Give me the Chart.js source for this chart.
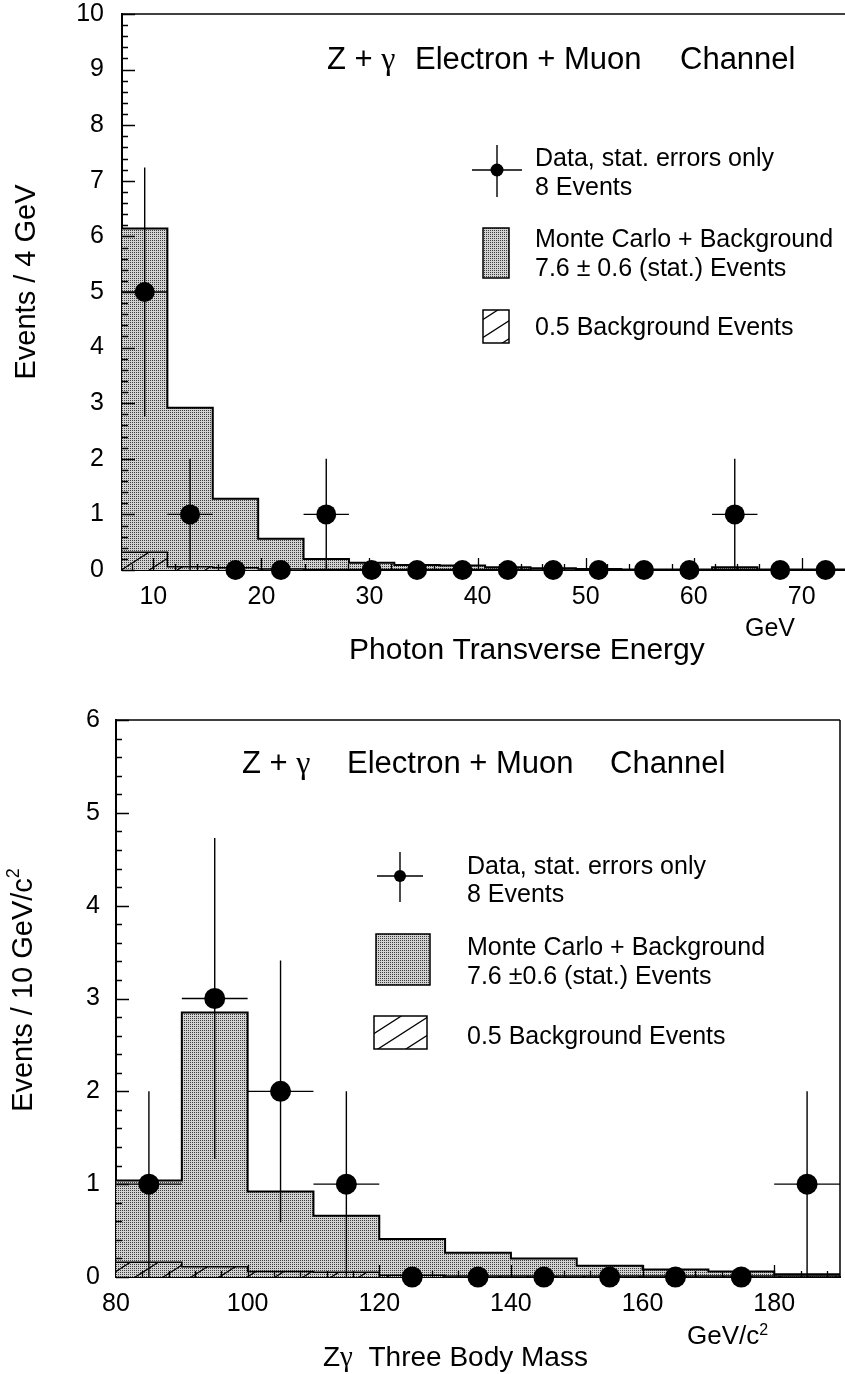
<!DOCTYPE html>
<html>
<head>
<meta charset="utf-8">
<title>Z + gamma: photon transverse energy and three body mass</title>
<script src="https://cdn.jsdelivr.net/npm/chart.js@4.4.1/dist/chart.umd.min.js"></script>
<style>
  html, body { margin: 0; padding: 0; background: #fff; }
  #page { position: relative; width: 845px; height: 1374px; }
  .panel { position: absolute; left: 0; width: 845px; }
  canvas { display: block; }
</style>
</head>
<body>
<div id="page">
  <div class="panel" style="top:0;height:680px"><canvas id="etChart" width="845" height="680"></canvas></div>
  <div class="panel" style="top:680px;height:694px"><canvas id="massChart" width="845" height="694"></canvas></div>
</div>
<script>
// ---- Photon transverse energy (upper panel) ----
const etEdges      = [7.1, 11.3, 15.5, 19.7, 23.9, 28.1, 32.3, 36.5, 40.7, 44.9, 49.1, 53.3, 57.5, 61.7, 65.9, 70.1, 74.3];
const etSimulated  = [6.14, 2.92, 1.28, 0.56, 0.20, 0.13, 0.09, 0.08, 0.05, 0.03, 0.02, 0.01, 0.01, 0.05, 0.01, 0.01];
const etBackground = [0.32, 0.06, 0.04, 0.02, 0.01, 0.01, 0.01, 0.01, 0.01, 0.0, 0.0, 0.0, 0.0, 0.01, 0.0, 0.0];
const etCounts     = [5, 1, 0, 0, 1, 0, 0, 0, 0, 0, 0, 0, 0, 1, 0, 0];
const etErrors     = [2.24, 1, 0, 0, 1, 0, 0, 0, 0, 0, 0, 0, 0, 1, 0, 0];
const etTickLabels = [10, 20, 30, 40, 50, 60, 70];

// ---- Z gamma three body mass (lower panel) ----
const massEdges      = [80, 90, 100, 110, 120, 130, 140, 150, 160, 170, 180, 190];
const massSimulated  = [1.04, 2.85, 0.92, 0.66, 0.41, 0.26, 0.20, 0.12, 0.08, 0.06, 0.03];
const massBackground = [0.16, 0.11, 0.06, 0.05, 0.02, 0.01, 0.01, 0.01, 0.01, 0.01, 0.01];
const massCounts     = [1, 3, 2, 1, 0, 0, 0, 0, 0, 0, 1];
const massErrors     = [1, 1.73, 1.41, 1, 0, 0, 0, 0, 0, 0, 1];
const massTickLabels = [80, 100, 120, 140, 160, 180];

const SANS  = '"Liberation Sans", Arial, Helvetica, sans-serif';
const SERIF = '"Liberation Serif", "Times New Roman", serif';

// step-histogram vertices: one point per bin edge, last bin value repeated
function histogramPoints(edges, values) {
  return edges.map((e, i) => ({ x: e, y: values[Math.min(i, values.length - 1)] }));
}
function binCentres(edges) {
  return edges.slice(0, -1).map((e, i) => (e + edges[i + 1]) / 2);
}
function dataPoints(edges, counts) {
  const c = binCentres(edges);
  return counts.map((n, i) => ({ x: c[i], y: n }));
}

// fine grey stipple used for the simulated distribution
function makeStipple(ctx) {
  const c = document.createElement('canvas');
  c.width = 2; c.height = 2;
  const g = c.getContext('2d');
  g.fillStyle = '#d2d2d2'; g.fillRect(0, 0, 2, 2);
  g.fillStyle = '#3c3c3c'; g.fillRect(0, 0, 1, 1);
  return ctx.createPattern(c, 'repeat');
}
// sparse diagonal hatching used for the background estimate
function makeHatch(ctx) {
  const w = 28, h = 18;
  const c = document.createElement('canvas');
  c.width = w; c.height = h;
  const g = c.getContext('2d');
  g.strokeStyle = '#000'; g.lineWidth = 1.3;
  g.beginPath();
  for (const off of [-w, 0, w]) {
    g.moveTo(off - 1, h + 0.64);
    g.lineTo(off + w + 1, -0.64);
  }
  g.stroke();
  return ctx.createPattern(c, 'repeat');
}

// draws a sequence of text runs left to right; y is the cap-height centre
function drawRuns(ctx, x, y, runs) {
  let cx = x;
  for (const r of runs) {
    ctx.font = `${r.size}px ${r.family || SANS}`;
    ctx.fillText(r.t, cx, y + (r.dy || 0) + 0.358 * r.size);
    cx += ctx.measureText(r.t).width;
  }
  return cx - x;
}
function runsWidth(ctx, runs) {
  let w = 0;
  for (const r of runs) { ctx.font = `${r.size}px ${r.family || SANS}`; w += ctx.measureText(r.t).width; }
  return w;
}

// closes the frame along the top (and optionally the right) of the plot area
const framePlugin = {
  id: 'frame',
  afterDatasetsDraw(chart, args, opts) {
    const { ctx, chartArea: a } = chart;
    ctx.save();
    ctx.strokeStyle = '#000';
    ctx.lineWidth = 1.5;
    ctx.beginPath();
    ctx.moveTo(a.left, a.top); ctx.lineTo(a.right, a.top);
    if (opts.right) { ctx.moveTo(a.right, a.top); ctx.lineTo(a.right, a.bottom); }
    ctx.stroke();
    ctx.restore();
  }
};

// tick marks pointing into the plot, with minor subdivisions
const innerTicksPlugin = {
  id: 'innerTicks',
  afterDatasetsDraw(chart, args, opts) {
    const { ctx, chartArea: a, scales: { x, y } } = chart;
    ctx.save();
    ctx.strokeStyle = '#000';
    ctx.lineWidth = 1.3;
    ctx.beginPath();
    const ny = Math.round((y.max - y.min) / opts.yStep);
    for (let i = 0; i <= ny; i++) {
      const py = Math.round(y.getPixelForValue(y.min + i * opts.yStep)) + 0.5;
      const len = (i % opts.yPerMajor === 0) ? opts.majorLen : opts.minorLen;
      ctx.moveTo(a.left, py); ctx.lineTo(a.left + len, py);
    }
    const i0 = Math.ceil(x.min / opts.xStep), i1 = Math.floor(x.max / opts.xStep);
    for (let i = i0; i <= i1; i++) {
      const px = Math.round(x.getPixelForValue(i * opts.xStep)) + 0.5;
      if (px <= a.left + 1 || px >= a.right - 1) continue;
      const len = (i % opts.xPerMajor === 0) ? opts.majorLen - 1 : opts.minorLen;
      ctx.moveTo(px, a.bottom); ctx.lineTo(px, a.bottom - len);
    }
    ctx.stroke();
    ctx.restore();
  }
};

// statistical error bars on the data points, horizontal bar spans the bin
const errorBarPlugin = {
  id: 'errorBars',
  afterDatasetsDraw(chart, args, opts) {
    const { ctx, chartArea: a, scales: { x, y } } = chart;
    const edges = opts.edges, counts = opts.counts, errs = opts.errors;
    ctx.save();
    ctx.beginPath();
    ctx.rect(a.left, a.top, a.right - a.left, a.bottom - a.top + 2);
    ctx.clip();
    ctx.strokeStyle = '#000';
    ctx.lineWidth = 1.4;
    ctx.beginPath();
    counts.forEach((n, i) => {
      const xc = x.getPixelForValue((edges[i] + edges[i + 1]) / 2);
      const yc = y.getPixelForValue(n);
      if (errs[i] > 0) {
        ctx.moveTo(xc, y.getPixelForValue(Math.max(0, n - errs[i])));
        ctx.lineTo(xc, y.getPixelForValue(n + errs[i]));
      }
      if (n > 0) {
        ctx.moveTo(x.getPixelForValue(edges[i]), yc);
        ctx.lineTo(x.getPixelForValue(edges[i + 1]), yc);
      }
    });
    ctx.stroke();
    ctx.restore();
  }
};

// in-plot caption, legend and axis captions
const captionPlugin = {
  id: 'captions',
  afterDraw(chart, args, o) {
    const ctx = chart.ctx;
    ctx.save();
    ctx.fillStyle = '#000';
    ctx.textAlign = 'left';
    ctx.textBaseline = 'alphabetic';

    // heading
    const t = o.heading;
    drawRuns(ctx, t.x[0], t.y, [{ t: 'Z + ', size: t.size }, { t: 'γ', size: t.size + 1, family: SERIF }]);
    drawRuns(ctx, t.x[1], t.y, [{ t: 'Electron + Muon', size: t.size }]);
    drawRuns(ctx, t.x[2], t.y, [{ t: 'Channel', size: t.size }]);

    // legend: data symbol
    const L = o.legend;
    ctx.strokeStyle = '#000';
    ctx.lineWidth = 1.4;
    ctx.beginPath();
    ctx.moveTo(L.cross.x0, L.cross.yc); ctx.lineTo(L.cross.x1, L.cross.yc);
    ctx.moveTo(L.cross.xc, L.cross.y0); ctx.lineTo(L.cross.xc, L.cross.y1);
    ctx.stroke();
    ctx.beginPath();
    ctx.arc(L.cross.xc, L.cross.yc, L.cross.r, 0, Math.PI * 2);
    ctx.fill();

    // legend: simulated box
    const s = L.simBox;
    ctx.fillStyle = o.stipple;
    ctx.fillRect(s.x, s.y, s.w, s.h);
    ctx.lineWidth = 1.5;
    ctx.strokeRect(s.x, s.y, s.w, s.h);

    // legend: background box
    const b = L.bkgBox;
    ctx.fillStyle = '#fff';
    ctx.fillRect(b.x, b.y, b.w, b.h);
    ctx.fillStyle = o.hatch;
    ctx.fillRect(b.x, b.y, b.w, b.h);
    ctx.strokeRect(b.x, b.y, b.w, b.h);

    ctx.fillStyle = '#000';
    L.lines.forEach(l => drawRuns(ctx, L.textX, l.y, [{ t: l.t, size: L.size }]));

    // x axis caption and unit
    o.xTitle.forEach(item => drawRuns(ctx, item.x, item.y, item.runs));

    // y axis caption, rotated
    const yt = o.yTitle;
    const w = runsWidth(ctx, yt.runs);
    ctx.translate(yt.x, yt.y);
    ctx.rotate(-Math.PI / 2);
    drawRuns(ctx, -w / 2, 0, yt.runs);
    ctx.restore();
  }
};

function buildChart(canvasId, cfg) {
  const canvas = document.getElementById(canvasId);
  const ctx = canvas.getContext('2d');
  const stipple = makeStipple(ctx);
  const hatch = makeHatch(ctx);
  const tickFont = { family: SANS, size: 25 };

  return new Chart(canvas, {
    type: 'line',
    data: {
      datasets: [
        {
          type: 'scatter',
          label: 'Data, stat. errors only',
          data: dataPoints(cfg.edges, cfg.counts),
          backgroundColor: '#000',
          borderWidth: 0,
          pointRadius: cfg.markerR,
          pointHoverRadius: cfg.markerR,
          clip: false,
          order: 0
        },
        {
          label: 'Background',
          data: histogramPoints(cfg.edges, cfg.background),
          stepped: 'before',
          fill: 'origin',
          backgroundColor: hatch,
          borderColor: '#000',
          borderWidth: 1.5,
          pointRadius: 0,
          order: 1
        },
        {
          label: 'Monte Carlo + Background',
          data: histogramPoints(cfg.edges, cfg.simulated),
          stepped: 'before',
          fill: 'origin',
          backgroundColor: stipple,
          borderColor: '#000',
          borderWidth: 2,
          pointRadius: 0,
          order: 2
        }
      ]
    },
    options: {
      responsive: false,
      animation: false,
      events: [],
      layout: { padding: cfg.padding, autoPadding: false },
      plugins: {
        legend: { display: false },
        tooltip: { enabled: false },
        frame: { right: cfg.rightFrame },
        innerTicks: cfg.ticks,
        errorBars: { edges: cfg.edges, counts: cfg.counts, errors: cfg.errors },
        captions: Object.assign({ stipple, hatch }, cfg.captions)
      },
      scales: {
        x: {
          type: 'linear',
          min: cfg.xMin,
          max: cfg.xMax,
          afterBuildTicks: sc => { sc.ticks = cfg.xTicks.map(v => ({ value: v })); },
          ticks: { font: tickFont, color: '#000', padding: cfg.xPad, maxRotation: 0, autoSkip: false },
          grid: { display: false, drawTicks: false },
          border: { display: true, color: '#000', width: 2 },
          afterFit: sc => { sc.height = cfg.xHeight; sc.paddingLeft = 0; sc.paddingRight = 0; }
        },
        y: {
          type: 'linear',
          min: 0,
          max: cfg.yMax,
          ticks: { stepSize: 1, font: tickFont, color: '#000', padding: cfg.yPad },
          grid: { display: false, drawTicks: false },
          border: { display: true, color: '#000', width: 2 },
          afterFit: sc => { sc.width = cfg.yWidth; sc.paddingTop = 0; sc.paddingBottom = 0; }
        }
      }
    },
    plugins: [framePlugin, innerTicksPlugin, errorBarPlugin, captionPlugin]
  });
}

buildChart('etChart', {
  edges: etEdges, simulated: etSimulated, background: etBackground,
  counts: etCounts, errors: etErrors, xTicks: etTickLabels,
  xMin: 7.1, xMax: 74, yMax: 10, markerR: 10,
  padding: { top: 14, right: 0, left: 0, bottom: 0 },
  xHeight: 110, yWidth: 122, xPad: 12, yPad: 18, rightFrame: false,
  ticks: { yStep: 0.2, yPerMajor: 5, xStep: 2, xPerMajor: 5, majorLen: 13, minorLen: 6 },
  captions: {
    heading: { x: [327, 415, 680], y: 58, size: 31 },
    legend: {
      size: 25, textX: 535,
      cross: { x0: 472, x1: 522, xc: 497, yc: 170, y0: 145, y1: 197, r: 6.5 },
      simBox: { x: 483, y: 228, w: 26, h: 50 },
      bkgBox: { x: 483, y: 310, w: 26, h: 33 },
      lines: [
        { t: 'Data, stat. errors only', y: 157 },
        { t: '8 Events', y: 186 },
        { t: 'Monte Carlo + Background', y: 238 },
        { t: '7.6 ± 0.6 (stat.) Events', y: 267 },
        { t: '0.5 Background Events', y: 326 }
      ]
    },
    xTitle: [
      { x: 349, y: 648, runs: [{ t: 'Photon Transverse Energy', size: 30 }] },
      { x: 745, y: 627, runs: [{ t: 'GeV', size: 25 }] }
    ],
    yTitle: { x: 25, y: 282, runs: [{ t: 'Events / 4 GeV', size: 29 }] }
  }
});

buildChart('massChart', {
  edges: massEdges, simulated: massSimulated, background: massBackground,
  counts: massCounts, errors: massErrors, xTicks: massTickLabels,
  xMin: 80, xMax: 190, yMax: 6, markerR: 10.5,
  padding: { top: 40, right: 5, left: 0, bottom: 0 },
  xHeight: 97, yWidth: 116, xPad: 12, yPad: 16, rightFrame: true,
  ticks: { yStep: 0.2, yPerMajor: 5, xStep: 4, xPerMajor: 5, majorLen: 13, minorLen: 6 },
  captions: {
    heading: { x: [242, 347, 610], y: 82, size: 31 },
    legend: {
      size: 25, textX: 467,
      cross: { x0: 377, x1: 423, xc: 400, yc: 196, y0: 172, y1: 222, r: 6 },
      simBox: { x: 376, y: 254, w: 54, h: 51 },
      bkgBox: { x: 374, y: 336, w: 53, h: 33 },
      lines: [
        { t: 'Data, stat. errors only', y: 185 },
        { t: '8 Events', y: 213 },
        { t: 'Monte Carlo + Background', y: 266 },
        { t: '7.6 ±0.6 (stat.) Events', y: 295 },
        { t: '0.5 Background Events', y: 355 }
      ]
    },
    xTitle: [
      { x: 323, y: 676, runs: [{ t: 'Z', size: 28 }, { t: 'γ', size: 29, family: SERIF }, { t: '  Three Body Mass', size: 28 }] },
      { x: 687, y: 655, runs: [{ t: 'GeV/c', size: 26 }, { t: '2', size: 16, dy: -6 }] }
    ],
    yTitle: { x: 22, y: 310, runs: [{ t: 'Events / 10 GeV/c', size: 29 }, { t: '2', size: 18, dy: -9 }] }
  }
});
</script>
</body>
</html>
